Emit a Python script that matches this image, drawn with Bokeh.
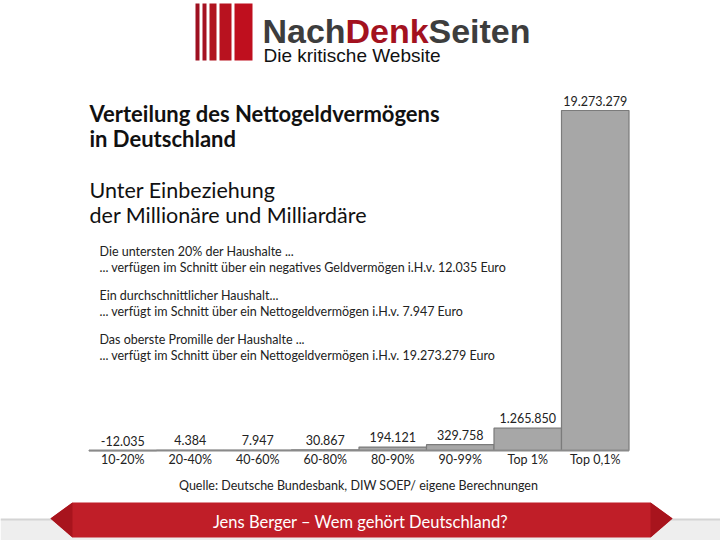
from bokeh.plotting import figure
from bokeh.models import Range1d, Label, BoxAnnotation, PolyAnnotation, ColumnDataSource
from bokeh.core.properties import value
from bokeh.embed import file_html
from bokeh.resources import INLINE

# ---- data ----
categories = ["10-20%", "20-40%", "40-60%", "60-80%", "80-90%", "90-99%", "Top 1%", "Top 0,1%"]
values = [-12035, 4384, 7947, 30867, 194121, 329758, 1265850, 19273279]
value_labels = ["-12.035", "4.384", "7.947", "30.867", "194.121", "329.758", "1.265.850", "19.273.279"]

title_lines = ["Verteilung des Nettogeldvermögens", "in Deutschland"]
subtitle_lines = ["Unter Einbeziehung", "der Millionäre und Milliardäre"]
note_lines = [
    ["Die untersten 20% der Haushalte ...",
     "... verfügen im Schnitt über ein negatives Geldvermögen i.H.v. 12.035 Euro"],
    ["Ein durchschnittlicher Haushalt...",
     "... verfügt im Schnitt über ein Nettogeldvermögen i.H.v. 7.947 Euro"],
    ["Das oberste Promille der Haushalte ...",
     "... verfügt im Schnitt über ein Nettogeldvermögen i.H.v. 19.273.279 Euro"],
]
source_text = "Quelle: Deutsche Bundesbank, DIW SOEP/ eigene Berechnungen"
banner_text = "Jens Berger \u2013 Wem gehört Deutschland?"

W, H = 720, 540
# layout: bars start at px 88.5, each 67.5 px wide; baseline at px 450, tallest bar top at px 110
bar_px = 67.5
left_px = 88.5
base_px = 450.0
top_px = 110.0
k = (base_px - top_px) / max(values)

p = figure(width=W, height=H, output_backend="svg", toolbar_location=None,
           x_range=Range1d(-left_px / bar_px, (W - left_px) / bar_px),
           y_range=Range1d(-(H - base_px) / k, base_px / k),
           min_border=0, outline_line_color=None)
p.axis.visible = False
p.grid.visible = False
p.background_fill_color = "white"
p.border_fill_color = "white"

n = len(categories)
src = ColumnDataSource(dict(
    left=list(range(n)), right=[i + 1 for i in range(n)],
    top=values, bottom=[0] * n,
    xc=[i + 0.5 for i in range(n)],
    ytop=[max(v, 0) for v in values],
    zero=[0] * n,
    vlab=value_labels, cat=categories,
))

FONT = "Lato"
p.quad(left="left", right="right", top="top", bottom="bottom", source=src,
       fill_color="#a7a7a7", line_color="#7b7b7b", line_width=1.2)
p.line(x=[0, n], y=[0, 0], line_color="#8a8a8a", line_width=2)

p.text(x="xc", y="ytop", text="vlab", source=src, text_align="center",
       text_baseline="bottom", y_offset=-5, text_font=value(FONT),
       text_font_size="12.5px", text_color="#222222")
p.text(x="xc", y="zero", text="cat", source=src, text_align="center",
       text_baseline="top", y_offset=1, text_font=value(FONT),
       text_font_size="12.5px", text_color="#222222")

def lab(x, y_top, text, size, color="#111111", style="normal", font=FONT, align="left"):
    p.add_layout(Label(x=x, y=H - y_top, x_units="screen", y_units="screen", text=text,
                       text_font=font, text_font_size=size, text_color=color,
                       text_font_style=style, text_baseline="top", text_align=align))

# titles
for i, t in enumerate(title_lines):
    lab(89, 99 + i * 25, t, "22px", style="bold")
for i, t in enumerate(subtitle_lines):
    lab(89, 176 + i * 25, t, "21.5px")
for j, block in enumerate(note_lines):
    for i, t in enumerate(block):
        lab(99, 243 + j * 44 + i * 16, t, "12.5px", color="#222222")
lab(358, 477, source_text, "12.5px", color="#222222", align="center")

# logo
stripes = [(195, 199), (202, 206), (209, 216), (219, 231), (234, 252)]
stripe_cols = ["#9e1020", "#a51222", "#b0141f", "#b8121f", "#bf0f1e"]
for (a, b), c in zip(stripes, stripe_cols):
    p.add_layout(BoxAnnotation(left=a, right=b, top=H - 3, bottom=H - 60,
                               left_units="screen", right_units="screen",
                               top_units="screen", bottom_units="screen",
                               fill_color=c, fill_alpha=1, line_color=None))
lab(262, 11, "Nach", "34px", color="#3d3d3d", style="bold", font="Liberation Sans")
lab(345, 11, "Denk", "34px", color="#a3121f", style="bold", font="Liberation Sans")
lab(428, 11, "Seiten", "34px", color="#3d3d3d", style="bold", font="Liberation Sans")
lab(263, 44, "Die kritische Website", "19px", color="#111111", font="Liberation Sans")

# bottom background and banner
p.add_layout(BoxAnnotation(left=0, right=W, top=H - 519, bottom=0,
                           left_units="screen", right_units="screen",
                           top_units="screen", bottom_units="screen",
                           fill_color="#eeeeee", fill_alpha=1, line_color=None))
p.add_layout(BoxAnnotation(left=0, right=W, top=H - 518, bottom=H - 520,
                           left_units="screen", right_units="screen",
                           top_units="screen", bottom_units="screen",
                           fill_color="#d4d4d4", fill_alpha=1, line_color=None))
p.add_layout(PolyAnnotation(xs=[72, 650, 672, 650, 72, 50],
                            ys=[H - 502, H - 502, H - 518, H - 537, H - 537, H - 518],
                            xs_units="screen", ys_units="screen",
                            fill_color="#c01e28", fill_alpha=1, line_color=None))
p.add_layout(PolyAnnotation(xs=[72, 72, 50], ys=[H - 502, H - 537, H - 518],
                            xs_units="screen", ys_units="screen",
                            fill_color="#a8141d", fill_alpha=1, line_color=None))
p.add_layout(PolyAnnotation(xs=[650, 650, 672], ys=[H - 502, H - 537, H - 518],
                            xs_units="screen", ys_units="screen",
                            fill_color="#a8141d", fill_alpha=1, line_color=None))
lab(360, 511, banner_text, "16.5px", color="white", font="Lato", align="center")

open("out.html", "w").write(file_html(p, INLINE))
